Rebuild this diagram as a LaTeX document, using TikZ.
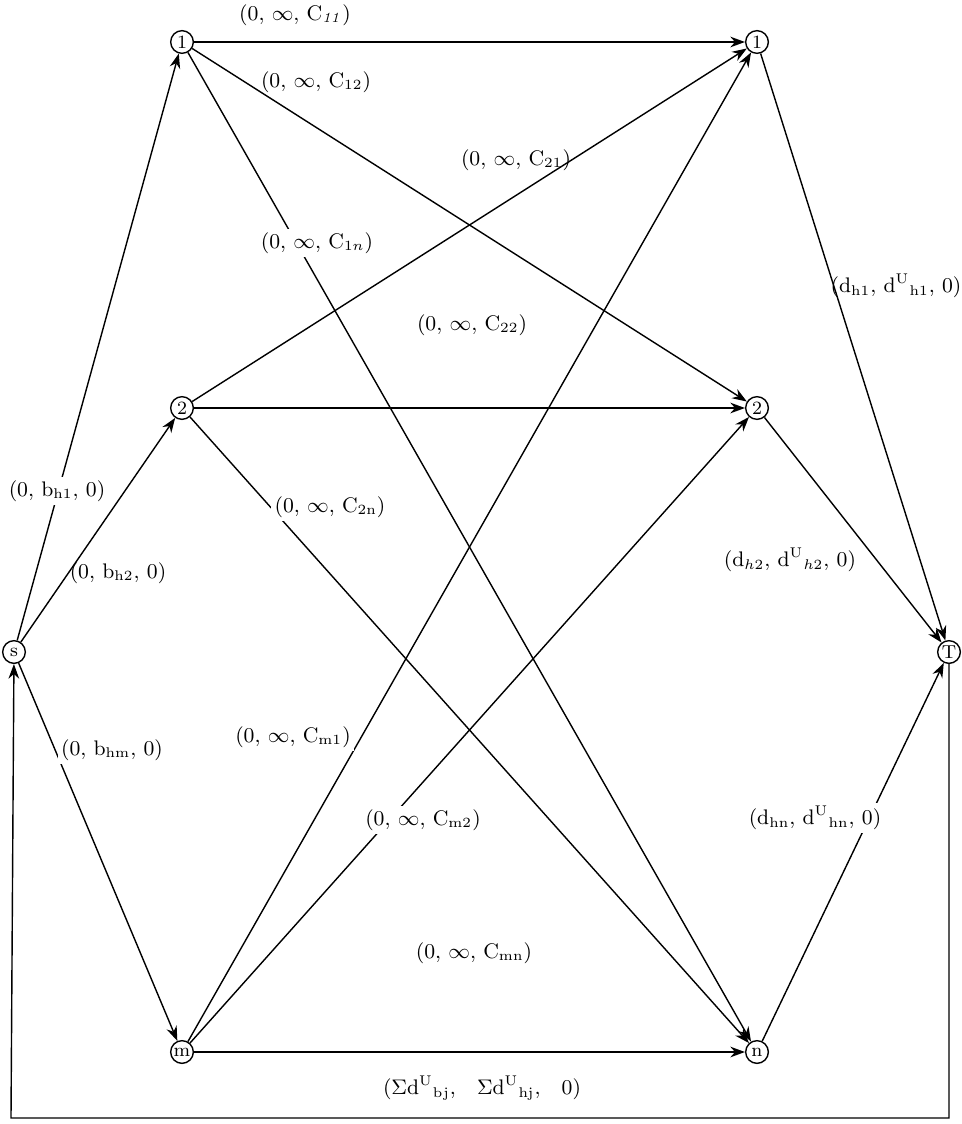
\documentclass[tikz,border=0pt]{standalone}
\usepackage{amssymb}
\usepackage{amsmath}
\usepackage{tikz}
\usetikzlibrary{arrows.meta}

\begin{document}
\begin{tikzpicture}[
					x=0.015cm,y=-0.015cm,
					vnode/.style={circle,draw,line width=0.6pt,inner sep=0.3pt,minimum size=3.4mm,font=\footnotesize},
					flow/.style={draw,line width=0.6pt,-{Stealth[length=2.2mm,width=1.6mm]}},
					arclabel/.style={fill=white,inner sep=1.5pt,font=\small}
					]
					\useasboundingbox (0,0) rectangle (961,1124);
					% vertices
					\node[vnode] (s) at (14,652) {s};
					\node[vnode] (t) at (949,652) {T};
					\foreach \i/\y in {1/42,2/408,m/1052}{
						\node[vnode] (u\i) at (182,\y) {\i};
					}
					\foreach \i/\y in {1/42,2/408,n/1052}{
						\node[vnode] (v\i) at (757,\y) {\i};
					}
					% arcs
					\foreach \i/\j in {s/u1,s/u2,s/um,u1/v1,u1/v2,u1/vn,u2/v1,u2/v2,u2/vn,um/v1,um/v2,um/vn,v1/t,v2/t,vn/t}{
						\draw[flow] (\i) -- (\j);
					}
					\coordinate (back) at (11,1118);
					\draw[flow] (t) |- (back) -- (s);
					% arc labels
					\node[arclabel] (l11) at (295,15) {(0, $\infty$, C$_{\mathit{11}}$)};
					\node[arclabel,fill=none] (l12) at (316,82) {(0, $\infty$, C$_{12}$)};
					\node[arclabel,fill=none] (l21) at (516,160) {(0, $\infty$, C$_{21}$)};
					\node[arclabel] (l1n) at (317,243) {(0, $\infty$, C$_{1n}$)};
					\node[arclabel] (l22) at (472,325) {(0, $\infty$, C$_{22}$)};
					\node[arclabel] (l2n) at (330,507) {(0, $\infty$, C$_{\mathrm{2n}}$)};
					\node[arclabel] (lm1) at (293,737) {(0, $\infty$, C$_{\mathrm{m1}}$)};
					\node[arclabel] (lm2) at (423,820) {(0, $\infty$, C$_{\mathrm{m2}}$)};
					\node[arclabel] (lmn) at (474,953) {(0, $\infty$, C$_{\mathrm{mn}}$)};
					\node[arclabel] (b1) at (57,491) {(0, b$_{\mathrm{h1}}$, 0)};
					\node[arclabel,fill=none] (b2) at (118,573) {(0, b$_{\mathrm{h2}}$, 0)};
					\node[arclabel] (bm) at (112,750) {(0, b$_{\mathrm{hm}}$, 0)};
					\node[arclabel,fill=none] (d1) at (896,286) {(d$_{\mathrm{h1}}$, d$^{\mathrm{U}}{}_{\mathrm{h1}}$, 0)};
					\node[arclabel,fill=none] (d2) at (790,560) {(d$_{h2}$, d$^{\mathrm{U}}{}_{h2}$, 0)};
					\node[arclabel] (dn) at (815,818) {(d$_{\mathrm{hn}}$, d$^{\mathrm{U}}{}_{\mathrm{hn}}$, 0)};
					\node[arclabel] (sum) at (482,1088) {($\Sigma$d$^{\mathrm{U}}{}_{\mathrm{bj}}$,\quad $\Sigma$d$^{\mathrm{U}}{}_{\mathrm{hj}}$,\quad 0)};
				\end{tikzpicture}
\end{document}
